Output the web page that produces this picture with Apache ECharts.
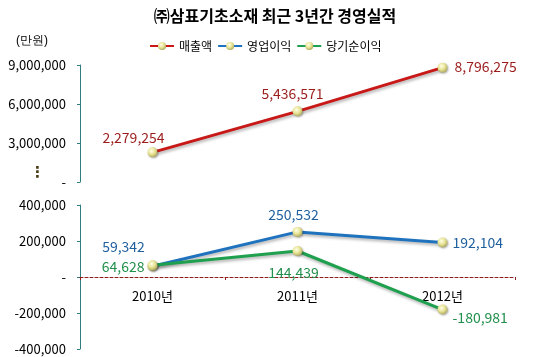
<!DOCTYPE html>
<html><head><meta charset="utf-8">
<script src="https://cdn.jsdelivr.net/npm/echarts@6/dist/echarts.min.js"></script>
<style>html,body{margin:0;padding:0;background:#fff}#c{width:550px;height:357px}</style>
</head><body><div id="c"></div>
<script>
const categories = ['2010년', '2011년', '2012년'];
const sales = [2279254, 5436571, 8796275];
const operatingProfit = [59342, 250532, 192104];
const netProfit = [64628, 144439, -180981];
const upperTicks = [0, 3000000, 6000000, 9000000];
const lowerTicks = [-400000, -200000, 0, 200000, 400000];

const FONT = '"Noto Sans CJK KR", "Noto Sans", sans-serif';
function fmt(v){ return v === 0 ? '-' : v.toLocaleString('en-US'); }
function sphere(){
  return {type:'radial', x:0.4, y:0.35, r:0.7, colorStops:[
    {offset:0, color:'#ffffe8'},{offset:0.5, color:'#e8e496'},{offset:1, color:'#a9a458'}]};
}
const salesLabels = [
  {position:'top', offset:[-19, 2]},
  {position:'top', offset:[-5, -1]},
  {position:'right', offset:[2, -1]}
];
const opLabels = [
  {position:'top', offset:[-29, -3]},
  {position:'top', offset:[-4, 0]},
  {position:'right', offset:[0, 0]}
];
const netLabels = [
  {position:'left', offset:[2, 1]},
  {position:'bottom', offset:[-4, 5]},
  {position:'right', offset:[0, 8]}
];
function build(vals, labs){
  return vals.map((v,i)=>({value:v, label:labs[i]}));
}
function lineSeries(name, vals, labs, lineColor, labelColor, xi, yi){
  return {
    name, type:'line', xAxisIndex:xi, yAxisIndex:yi,
    data: build(vals, labs),
    symbol:'circle', symbolSize:10,
    itemStyle:{color:sphere(), borderWidth:0, shadowColor:'rgba(0,0,0,0.3)', shadowBlur:2, shadowOffsetX:1, shadowOffsetY:1},
    lineStyle:{color:lineColor, width:3, shadowColor:'rgba(0,0,0,0.3)', shadowBlur:3, shadowOffsetX:1, shadowOffsetY:2},
    label:{show:true, color:labelColor, fontSize:14, fontFamily:FONT, formatter:p=>p.value.toLocaleString('en-US')},
    z:3
  };
}
const axisColor = '#2f7d80';
const zeroColor = '#8e1c1c';
const chart = echarts.init(document.getElementById('c'));
chart.setOption({
  animation:false,
  backgroundColor:'#fff',
  title:{text:'㈜삼표기초소재 최근 3년간 경영실적', left:'center', top:3,
    textStyle:{fontSize:16, fontWeight:'bold', color:'#000', fontFamily:FONT}},
  legend:{left:144, top:35, itemWidth:24, itemHeight:10, itemGap:5,
    textStyle:{fontSize:12, color:'#000', fontFamily:FONT},
    data:['매출액','영업이익','당기순이익']},
  graphic:[
    {type:'text', left:16, top:35, style:{text:'(만원)', fontSize:12, fill:'#000', font:'12px ' + FONT}},
    {type:'text', left:30, top:166, style:{text:'⋮', font:'bold 15px "DejaVu Sans"', fill:'#4a3c14'}}
  ],
  grid:[
    {left:80, right:35, top:65, height:117, outerBoundsMode:'none', containLabel:false},
    {left:80, right:35, top:205, height:144, outerBoundsMode:'none', containLabel:false}
  ],
  xAxis:[
    {type:'category', gridIndex:0, data:categories, show:false},
    {type:'category', gridIndex:1, data:categories,
      axisLine:{onZero:true, lineStyle:{color:zeroColor, type:[3,2], width:1}},
      axisTick:{show:true, inside:false, length:3, lineStyle:{color:zeroColor}},
      axisLabel:{show:false}, z:1},
    {type:'category', gridIndex:1, data:categories, position:'bottom', offset:-72,
      axisLine:{show:false}, axisTick:{show:false},
      axisLabel:{color:'#000', fontSize:13, margin:13, fontFamily:FONT}}
  ],
  yAxis:[
    {type:'value', gridIndex:0, min:upperTicks[0], max:upperTicks[upperTicks.length-1], interval:upperTicks[1]-upperTicks[0],
      axisLine:{show:true, lineStyle:{color:axisColor}},
      axisTick:{show:true, length:3, lineStyle:{color:axisColor}},
      splitLine:{show:false},
      axisLabel:{color:'#000', fontSize:13, margin:14, fontFamily:FONT, formatter:fmt}},
    {type:'value', gridIndex:1, min:lowerTicks[0], max:lowerTicks[lowerTicks.length-1], interval:lowerTicks[1]-lowerTicks[0],
      axisLine:{show:true, onZero:false, lineStyle:{color:axisColor}},
      axisTick:{show:true, length:3, lineStyle:{color:axisColor}},
      splitLine:{show:false},
      axisLabel:{color:'#000', fontSize:13, margin:14, fontFamily:FONT, formatter:fmt}}
  ],
  series:[
    lineSeries('매출액', sales, salesLabels, '#c81818', '#9c1c1c', 0, 0),
    lineSeries('영업이익', operatingProfit, opLabels, '#1f72bd', '#1f5f9e', 1, 1),
    lineSeries('당기순이익', netProfit, netLabels, '#1ea04e', '#22904c', 1, 1)
  ]
});
</script></body></html>
